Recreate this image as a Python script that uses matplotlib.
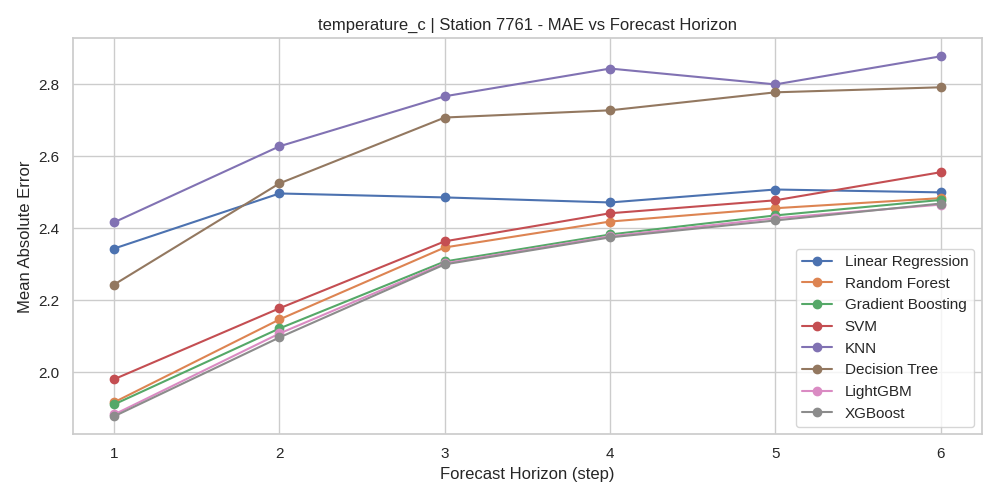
import matplotlib
matplotlib.use("Agg")
import matplotlib.pyplot as plt
import seaborn as sns

sns.set_theme(style="whitegrid")
plt.rcParams["font.family"] = ["Liberation Sans", "DejaVu Sans"]

steps = [1, 2, 3, 4, 5, 6]
models = ["Linear Regression", "Random Forest", "Gradient Boosting", "SVM",
          "KNN", "Decision Tree", "LightGBM", "XGBoost"]

lin_reg = [2.344, 2.497, 2.486, 2.472, 2.508, 2.500]
rand_forest = [1.917, 2.147, 2.347, 2.419, 2.456, 2.484]
grad_boost = [1.911, 2.122, 2.308, 2.383, 2.436, 2.479]
svm = [1.981, 2.178, 2.364, 2.442, 2.478, 2.556]
knn = [2.417, 2.628, 2.767, 2.844, 2.800, 2.878]
dec_tree = [2.244, 2.525, 2.708, 2.728, 2.778, 2.792]
lightgbm = [1.883, 2.108, 2.303, 2.378, 2.428, 2.466]
xgboost = [1.878, 2.097, 2.300, 2.375, 2.422, 2.469]

series = [lin_reg, rand_forest, grad_boost, svm, knn, dec_tree, lightgbm, xgboost]

fig, ax = plt.subplots(figsize=(10, 5), dpi=100)
for name, vals in zip(models, series):
    ax.plot(steps, vals, marker="o", label=name)

ax.set_title("temperature_c | Station 7761 - MAE vs Forecast Horizon")
ax.set_xlabel("Forecast Horizon (step)")
ax.set_ylabel("Mean Absolute Error")
ax.set_xticks(steps)
ax.legend(loc="lower right")
fig.tight_layout()
fig.savefig("out.png")
